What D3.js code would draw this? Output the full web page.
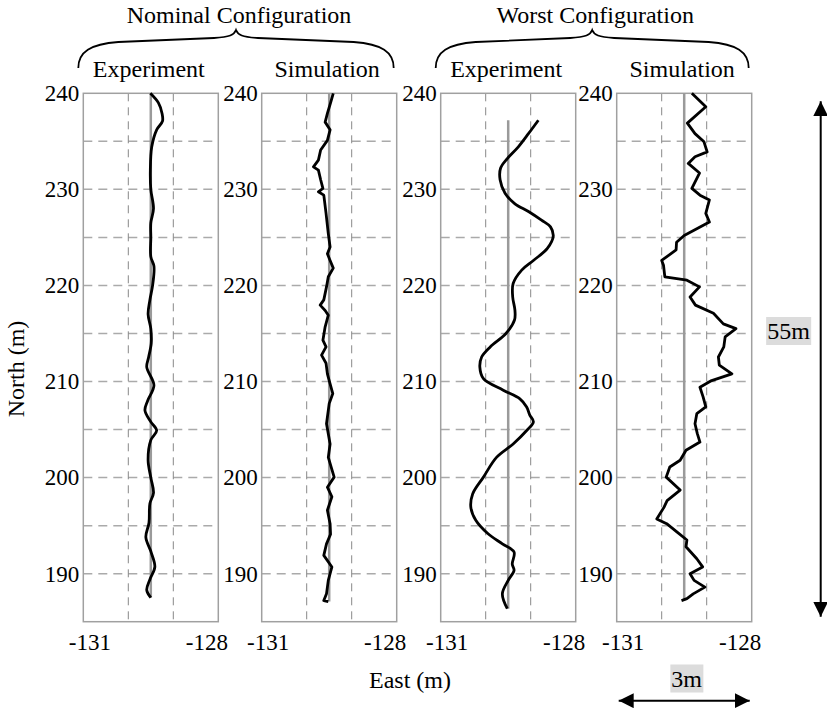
<!DOCTYPE html>
<html>
<head>
<meta charset="utf-8">
<title>North vs East trajectories</title>
<script src="https://cdn.jsdelivr.net/npm/d3@7/dist/d3.min.js"></script>
<style>
    body { margin: 0; background: #fff; }
    svg { font-family: "Liberation Serif", "Times New Roman", serif; }
    .tick text { font-family: "Liberation Serif", "Times New Roman", serif; font-size: 23px; fill: #000; }
</style>
</head>
<body>
<svg id="chart" width="827" height="713"></svg>
<script>
// ---- data ----
var groupTitles = ['Nominal Configuration', 'Worst Configuration'];
var panelTitles = ['Experiment', 'Simulation', 'Experiment', 'Simulation'];
var yTicks = [190, 200, 210, 220, 230, 240];
var yGrid = [190, 195, 200, 205, 210, 215, 220, 225, 230, 235];
var xTicks = [-131, -128];
var xGrid = [-130, -129];
var refEast = -129.5;   // straight reference path
var spanLabels = ['55m', '3m'];

var nomExpNorth = [240, 239, 237.9, 237.1, 236.2, 234.4, 232, 230, 228, 226.5, 225, 223, 222, 220, 218.5, 217, 215.5, 214, 212.5, 211.5, 209.6, 208, 207, 205.8, 204.9, 203.9, 201.8, 200, 198.4, 197.3, 195.3, 193.8, 192.2, 190.7, 189.4, 188.3, 187.5];
var nomExpEast = [-129.51, -129.33, -129.25, -129.24, -129.37, -129.48, -129.51, -129.5, -129.44, -129.5, -129.5, -129.5, -129.43, -129.46, -129.52, -129.56, -129.5, -129.49, -129.55, -129.59, -129.43, -129.57, -129.63, -129.5, -129.37, -129.5, -129.56, -129.5, -129.44, -129.52, -129.54, -129.61, -129.49, -129.41, -129.52, -129.59, -129.5];

var nomSimNorth = [240, 239, 237.9, 237, 236.2, 235.1, 234.1, 233.05, 232.35, 232, 231, 230.1, 229.75, 229.4, 227.5, 225.4, 224, 223.3, 222.6, 221.8, 220.9, 219.85, 218.5, 217.95, 217.4, 216.9, 215.7, 214.3, 213.6, 212.75, 211.9, 210.8, 210.1, 208.75, 207.7, 205.6, 203.5, 202.1, 200.05, 199, 198, 196.6, 195.2, 194.1, 193.1, 191.9, 190.7, 189.3, 187.9, 187.2, 187.1];
var nomSimEast = [-129.41, -129.47, -129.54, -129.59, -129.48, -129.54, -129.69, -129.74, -129.85, -129.74, -129.69, -129.64, -129.74, -129.62, -129.57, -129.52, -129.48, -129.54, -129.48, -129.41, -129.52, -129.56, -129.62, -129.7, -129.59, -129.52, -129.59, -129.64, -129.57, -129.67, -129.57, -129.54, -129.5, -129.42, -129.5, -129.56, -129.48, -129.52, -129.39, -129.54, -129.44, -129.54, -129.48, -129.47, -129.56, -129.62, -129.44, -129.52, -129.56, -129.62, -129.52];

var worstExpNorth = [237.2, 235.8, 234.4, 233.2, 232.2, 231, 229.6, 228.5, 227.7, 226.8, 226.1, 225.1, 223.85, 222.6, 221.6, 220.2, 218.8, 217.4, 216.4, 215, 213.6, 212.55, 211.5, 210.3, 209.1, 208.2, 207.35, 206.5, 205.8, 204.9, 203.5, 202.1, 200.05, 198.3, 196.9, 195.55, 194.2, 193.1, 192.25, 191, 190.35, 189.3, 187.9, 186.35];
var worstExpEast = [-128.83, -129.05, -129.28, -129.52, -129.67, -129.68, -129.57, -129.35, -129.05, -128.76, -128.56, -128.5, -128.63, -128.94, -129.2, -129.39, -129.4, -129.35, -129.36, -129.55, -129.9, -130.09, -130.13, -130.05, -129.61, -129.24, -129.09, -129.02, -128.94, -129.09, -129.39, -129.76, -130.05, -130.29, -130.33, -130.22, -129.96, -129.63, -129.37, -129.41, -129.37, -129.5, -129.63, -129.52];

var worstSimNorth = [240, 238.6, 236.9, 235.8, 234.95, 233.9, 233.4, 232.7, 231.7, 230.1, 229.4, 228.9, 227.5, 226.6, 225.9, 225.2, 224.5, 223.7, 222.6, 222.1, 220.9, 220.55, 219.85, 218.8, 217.95, 217.1, 216, 215.5, 214.65, 213.6, 212.55, 211.7, 210.8, 210.1, 209.4, 208.4, 207.35, 206.65, 205.6, 204.6, 203.7, 202.85, 201.8, 201.1, 200.05, 198.7, 197.6, 196.9, 195.7, 195.2, 194.3, 193.5, 192.8, 191.55, 190.7, 190, 189.3, 188.6, 187.9, 187.4, 187.2];
var worstSimEast = [-129.33, -129.02, -129.43, -129.26, -129.06, -128.99, -129.26, -129.41, -129.16, -129.33, -129.15, -128.94, -129.02, -128.94, -129.22, -129.5, -129.67, -129.68, -130.0, -129.96, -129.93, -129.44, -129.16, -129.37, -129.25, -128.85, -128.63, -128.35, -128.59, -128.62, -128.74, -128.72, -128.44, -128.89, -129.15, -129.08, -129.02, -129.22, -129.26, -129.21, -129.15, -129.46, -129.59, -129.82, -129.9, -129.59, -129.88, -129.95, -130.11, -129.89, -129.65, -129.44, -129.46, -129.22, -129.09, -129.37, -129.28, -129.04, -129.3, -129.44, -129.56];

var series = [
    {north: nomExpNorth, east: nomExpEast, smooth: true},
    {north: nomSimNorth, east: nomSimEast, smooth: false},
    {north: worstExpNorth, east: worstExpEast, smooth: true},
    {north: worstSimNorth, east: worstSimEast, smooth: false}
];

// ---- layout ----
var svg = d3.select('#chart');
var panelLeft = [83.3, 261.7, 440.7, 616.7];
var panelW = 135, plotTop = 93.3, plotBottom = 621.7;

var y = d3.scaleLinear().domain([185, 240]).range([plotBottom, plotTop]);

series.forEach(function (s, i) {
    var x = d3.scaleLinear().domain([-131, -128]).range([panelLeft[i], panelLeft[i] + panelW]);
    s.x = x;
    var g = svg.append('g');

    //horizontal gridlines
    g.selectAll('.hgrid').data(yGrid).enter().append('line')
        .attr('x1', x.range()[0]).attr('x2', x.range()[1])
        .attr('y1', d => y(d)).attr('y2', d => y(d))
        .attr('stroke', '#aaa').attr('stroke-width', 1.5)
        .attr('stroke-dasharray', '9,6');

    //vertical gridlines
    g.selectAll('.vgrid').data(xGrid).enter().append('line')
        .attr('x1', d => x(d)).attr('x2', d => x(d))
        .attr('y1', plotTop).attr('y2', plotBottom)
        .attr('stroke', '#888').attr('stroke-width', 1)
        .attr('stroke-dasharray', '8,6');

    //box
    g.append('rect')
        .attr('x', x.range()[0]).attr('y', plotTop)
        .attr('width', panelW).attr('height', plotBottom - plotTop)
        .attr('fill', 'none').attr('stroke', '#a0a0a0').attr('stroke-width', 1.5);

    //axes (labels only)
    g.append('g')
        .attr('transform', 'translate(' + x.range()[0] + ',0)')
        .call(d3.axisLeft(y).tickValues(yTicks).tickSize(0).tickPadding(4).tickFormat(d => String(d)))
        .attr('font-family', null).attr('font-size', null)
        .call(a => a.select('.domain').remove());

    g.append('g')
        .attr('transform', 'translate(0,' + plotBottom + ')')
        .call(d3.axisBottom(x).tickValues(xTicks).tickSize(0).tickPadding(12).tickFormat(d => String(d)))
        .attr('font-family', null).attr('font-size', null)
        .call(a => a.select('.domain').remove())
        .selectAll('text')
        .attr('dx', (d, j) => j === 0 ? 6 : -12);

    //reference path
    var ext = d3.extent(s.north);
    g.append('line')
        .attr('x1', x(refEast)).attr('x2', x(refEast))
        .attr('y1', y(ext[1])).attr('y2', y(ext[0]))
        .attr('stroke', '#9a9a9a').attr('stroke-width', 2.5);

    //trajectory
    var pts = d3.zip(s.east, s.north);
    var line = d3.line()
        .x(d => x(d[0]))
        .y(d => y(d[1]))
        .curve(s.smooth ? d3.curveCatmullRom : d3.curveLinear);
    g.append('path')
        .datum(pts)
        .attr('d', line)
        .attr('fill', 'none').attr('stroke', '#000').attr('stroke-width', 2.8)
        .attr('stroke-linejoin', 'round');

    //panel title
    g.append('text')
        .attr('x', x.range()[0] + panelW / 2 - 2).attr('y', 77)
        .attr('text-anchor', 'middle').attr('font-size', 24)
        .text(panelTitles[i]);
});

//group titles with braces
groupTitles.forEach(function (t, k) {
    var x0 = panelLeft[2 * k] - 5;
    var x1 = panelLeft[2 * k + 1] + panelW - 3;
    var xm = (x0 + x1) / 2;
    svg.append('text')
        .attr('x', xm + 3).attr('y', 23)
        .attr('text-anchor', 'middle').attr('font-size', 24)
        .text(t);
    var p = 'M' + x0 + ',68 C' + x0 + ',52 ' + (x0 + 12) + ',44 ' + (x0 + 40) + ',42'
        + ' L' + (xm - 22) + ',38 C' + (xm - 6) + ',37 ' + (xm - 2) + ',35 ' + xm + ',30'
        + ' C' + (xm + 2) + ',35 ' + (xm + 6) + ',37 ' + (xm + 22) + ',38'
        + ' L' + (x1 - 40) + ',42 C' + (x1 - 12) + ',44 ' + x1 + ',52 ' + x1 + ',68';
    svg.append('path').attr('d', p)
        .attr('fill', 'none').attr('stroke', '#000').attr('stroke-width', 1.8);
});

//axis titles
svg.append('text')
    .attr('x', 410).attr('y', 688)
    .attr('text-anchor', 'middle').attr('font-size', 24)
    .text('East (m)');

svg.append('text')
    .attr('transform', 'translate(24,' + 369 + ') rotate(-90)')
    .attr('text-anchor', 'middle').attr('font-size', 24)
    .text('North (m)');

//scale arrows
var defs = svg.append('defs');
defs.append('marker')
    .attr('id', 'head').attr('viewBox', '0 0 10 10')
    .attr('refX', 10).attr('refY', 5)
    .attr('markerWidth', 7.5).attr('markerHeight', 7.5)
    .attr('markerUnits', 'strokeWidth')
    .attr('orient', 'auto-start-reverse')
    .append('path').attr('d', 'M0,0 L10,5 L0,10 Z').attr('fill', '#000');

var ax = 820.7;
svg.append('line')
    .attr('x1', ax).attr('x2', ax)
    .attr('y1', y(240) + 8).attr('y2', y(185) - 5)
    .attr('stroke', '#000').attr('stroke-width', 2)
    .attr('marker-start', 'url(#head)').attr('marker-end', 'url(#head)');

var x4 = series[3].x;
svg.append('line')
    .attr('x1', x4(-131) + 2).attr('x2', x4(-128) - 2)
    .attr('y1', 700.7).attr('y2', 700.7)
    .attr('stroke', '#000').attr('stroke-width', 2)
    .attr('marker-start', 'url(#head)').attr('marker-end', 'url(#head)');

//span labels
[[788.5, 331, spanLabels[0]], [686.7, 678.5, spanLabels[1]]].forEach(function (d) {
    var t = svg.append('text')
        .attr('x', d[0]).attr('y', d[1] + 8)
        .attr('text-anchor', 'middle').attr('font-size', 24)
        .text(d[2]);
    var bb = t.node().getBBox();
    svg.insert('rect', function () { return t.node(); })
        .attr('x', bb.x - 1).attr('y', d[1] - 14)
        .attr('width', bb.width + 2).attr('height', 28)
        .attr('fill', '#dcdcdc');
});
</script>
</body>
</html>
